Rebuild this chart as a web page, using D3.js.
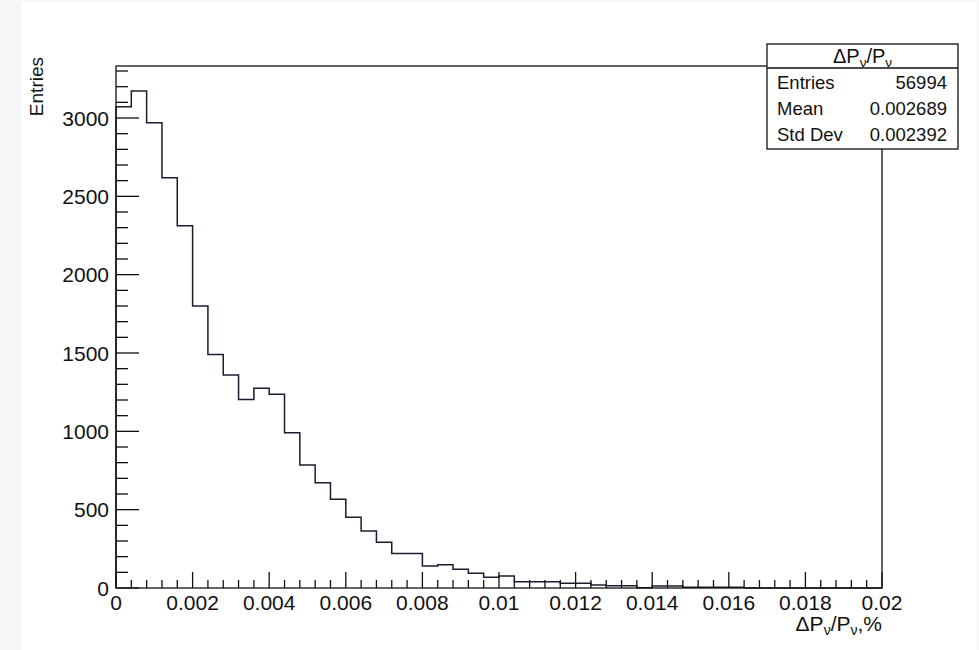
<!DOCTYPE html>
<html>
<head>
<meta charset="utf-8">
<script src="https://cdn.jsdelivr.net/npm/d3@7"></script>
<style>
  html, body { margin: 0; padding: 0; background: #f6f6f6; }
  svg { display: block; font-family: "Liberation Sans", Arial, Helvetica, sans-serif; }
</style>
</head>
<body>
<svg id="chart" width="979" height="650"></svg>
<script>
// Histogram of the relative momentum resolution, 50 equal bins on [0, 0.02]
const binLow = 0;
const binWidth = 0.0004;
const binCounts = [
  3072, 3172, 2970, 2619, 2313, 1800, 1491, 1360, 1204, 1275,
  1236,  991,  785,  672,  566,  451,  364,  292,  221,  221,
   140,  149,  119,   94,   68,   77,   40,   40,   40,   30,
    30,   19,   15,   15,    2,   13,   13,    4,    4,    4,
     4,    0,    0,    0,    0,    0,    0,    0,    0,    0
];
const xRange = [0, 0.02];
const yMax = 3332;
const xMajorTicks = [0, 0.002, 0.004, 0.006, 0.008, 0.01, 0.012, 0.014, 0.016, 0.018, 0.02];
const xTickLabels = ["0", "0.002", "0.004", "0.006", "0.008", "0.01", "0.012", "0.014", "0.016", "0.018", "0.02"];
const yMajorTicks = [0, 500, 1000, 1500, 2000, 2500, 3000];
const yTickLabels = ["0", "500", "1000", "1500", "2000", "2500", "3000"];
const statNames = ["Entries", "Mean", "Std Dev"];
const statValues = ["56994", "0.002689", "0.002392"];

const svg = d3.select("#chart");
const W = 979, H = 650;
const frame = { left: 116, right: 882, top: 66, bottom: 588 };
const ink = "#111";
const histInk = "#1c1c30";

// canvas
svg.append("rect").attr("width", W).attr("height", H).attr("fill", "#f6f6f6");
svg.append("rect").attr("x", 21).attr("y", 2).attr("width", 956).attr("height", 648).attr("fill", "#fff");

const x = d3.scaleLinear().domain(xRange).range([frame.left, frame.right]);
const y = d3.scaleLinear().domain([0, yMax]).range([frame.bottom, frame.top]);

// histogram outline as a step path
const pts = [[x(binLow), y(0)]];
binCounts.forEach((c, i) => {
  const x0 = x(binLow + i * binWidth), x1 = x(binLow + (i + 1) * binWidth);
  pts.push([x0, y(c)], [x1, y(c)]);
});
pts.push([x(binLow + binCounts.length * binWidth), y(0)]);
svg.append("path")
  .attr("d", d3.line()(pts))
  .attr("fill", "none")
  .attr("stroke", histInk)
  .attr("stroke-width", 1.5)
  .attr("stroke-linejoin", "miter");

// frame
svg.append("rect")
  .attr("x", frame.left).attr("y", frame.top)
  .attr("width", frame.right - frame.left).attr("height", frame.bottom - frame.top)
  .attr("fill", "none").attr("stroke", ink).attr("stroke-width", 1.3);

// x axis: major ticks every 0.002, minor every 0.0004, drawn inside the frame
const xMinor = d3.range(0, 51).map(i => i * 0.0004);
const gx = svg.append("g").attr("stroke", ink).attr("stroke-width", 1.3);
xMinor.forEach((v, i) => {
  const len = (i % 5 === 0) ? 16 : 8;
  gx.append("line").attr("x1", x(v)).attr("x2", x(v))
    .attr("y1", frame.bottom).attr("y2", frame.bottom - len);
});
svg.append("g").selectAll("text").data(xMajorTicks).join("text")
  .attr("x", d => x(d)).attr("y", frame.bottom + 22)
  .attr("text-anchor", "middle").attr("font-size", 21).attr("fill", ink)
  .text((d, i) => xTickLabels[i]);

// y axis: major ticks every 500, minor every 100
const yMinor = d3.range(0, 34).map(i => i * 100);
const gy = svg.append("g").attr("stroke", ink).attr("stroke-width", 1.3);
yMinor.forEach((v, i) => {
  const len = (i % 5 === 0) ? 23 : 12;
  gy.append("line").attr("x1", frame.left).attr("x2", frame.left + len)
    .attr("y1", y(v)).attr("y2", y(v));
});
svg.append("g").selectAll("text").data(yMajorTicks).join("text")
  .attr("x", frame.left - 7).attr("y", d => y(d) + 7.5)
  .attr("text-anchor", "end").attr("font-size", 21).attr("fill", ink)
  .text((d, i) => yTickLabels[i]);

// axis titles
svg.append("text")
  .attr("transform", "translate(43,57) rotate(-90)")
  .attr("text-anchor", "end").attr("font-size", 19).attr("fill", ink)
  .text("Entries");

const xt = svg.append("text")
  .attr("x", frame.right).attr("y", 631)
  .attr("text-anchor", "end").attr("font-size", 21).attr("fill", ink);
xt.append("tspan").text("\u0394P");
xt.append("tspan").attr("font-size", 14).attr("dy", 4).text("\u03BD");
xt.append("tspan").attr("dy", -4).text("/P");
xt.append("tspan").attr("font-size", 14).attr("dy", 4).text("\u03BD");
xt.append("tspan").attr("dy", -4).text(",%");

// statistics box, reaching past the right edge of the frame
const box = { x: 767, y: 44, w: 191, h: 105, head: 24 };
svg.append("rect").attr("x", box.x).attr("y", box.y).attr("width", box.w).attr("height", box.h)
  .attr("fill", "#fff").attr("stroke", ink).attr("stroke-width", 1.3);
svg.append("line").attr("x1", box.x).attr("x2", box.x + box.w)
  .attr("y1", box.y + box.head).attr("y2", box.y + box.head)
  .attr("stroke", ink).attr("stroke-width", 1.3);
const st = svg.append("text")
  .attr("x", box.x + box.w / 2).attr("y", box.y + 19)
  .attr("text-anchor", "middle").attr("font-size", 20).attr("fill", ink);
st.append("tspan").text("\u0394P");
st.append("tspan").attr("font-size", 13.5).attr("dy", 4).text("\u03BD");
st.append("tspan").attr("dy", -4).text("/P");
st.append("tspan").attr("font-size", 13.5).attr("dy", 4).text("\u03BD");

const rowBase = [89, 115, 141];
statNames.forEach((name, i) => {
  svg.append("text").attr("x", box.x + 10).attr("y", rowBase[i])
    .attr("font-size", 18.5).attr("fill", ink).text(name);
  svg.append("text").attr("x", box.x + box.w - 11).attr("y", rowBase[i])
    .attr("text-anchor", "end").attr("font-size", 18.5).attr("fill", ink).text(statValues[i]);
});
</script>
</body>
</html>
